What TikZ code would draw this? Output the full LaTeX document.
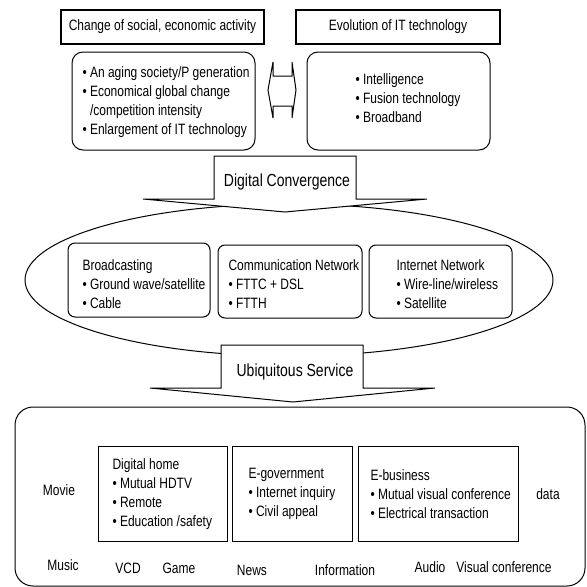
\documentclass[tikz,border=0pt]{standalone}
\usepackage{fontspec}
\setmainfont{Liberation Sans}[FakeStretch=0.8]
\usetikzlibrary{shapes.geometric}
\begin{document}
\begin{tikzpicture}[x=1pt,y=-1pt,line width=1pt,
  box/.style={draw,rectangle,inner sep=0,line width=1.1pt},
  rbox/.style={draw,rectangle,rounded corners=11pt,inner sep=0},
  ibox/.style={draw,rectangle,rounded corners=7pt,inner sep=0},
  sbox/.style={draw,rectangle,inner sep=0},
  txt/.style={font=\fontsize{15}{19}\selectfont,align=left,inner sep=0,anchor=west},
  lbl/.style={font=\fontsize{15}{19}\selectfont,inner sep=0},
  head/.style={font=\fontsize{17.5}{21}\selectfont,inner sep=0},
  bigarrow/.style={draw,fill=white,line join=miter}]
\useasboundingbox (0,0) rectangle (587,587);

% top titles
\node[box,minimum width=203pt,minimum height=34pt] (t1) at (162.5,27) {};
\node[lbl] (t1t) at (t1) {Change of social, economic activity};
\node[box,minimum width=204pt,minimum height=34pt] (t2) at (398,27) {};
\node[lbl] (t2t) at (t2) {Evolution of IT technology};

% top rounded boxes
\node[rbox,minimum width=183pt,minimum height=98pt] (r1) at (163.5,101) {};
\node[txt] (r1t) at (82,102) {• An aging society/P generation\\
• Economical global change\\
\hphantom{• }/competition intensity\\
• Enlargement of IT technology};
\node[rbox,minimum width=183pt,minimum height=98pt] (r2) at (398.5,101) {};
\node[txt] (r2t) at (355,98) {• Intelligence\\
• Fusion technology\\
• Broadband};

% double arrow
\draw[line join=miter] (268,90) -- (273,62) -- (273,76) -- (292,76) -- (292,62) -- (296,90)
  -- (292,118) -- (292,106) -- (273,106) -- (273,118) -- cycle;

% ellipse
\node[draw,ellipse,minimum width=528pt,minimum height=152pt,inner sep=0] (ell) at (289,280) {};

% Digital Convergence arrow
\draw[bigarrow] (214,156) -- (356,156) -- (356,199) -- (427,199) -- (285,212) -- (143,199) -- (214,199) -- cycle;
\node[head] (dc) at (287,182) {Digital Convergence};

% boxes in ellipse
\node[ibox,minimum width=142pt,minimum height=74pt] (b1) at (139,280) {};
\node[txt] (b1t) at (82,284) {Broadcasting\\• Ground wave/satellite\\• Cable};
\node[ibox,minimum width=144pt,minimum height=73pt] (b2) at (290,281.5) {};
\node[txt] (b2t) at (228,284) {Communication Network\\• FTTC + DSL\\• FTTH};
\node[ibox,minimum width=143pt,minimum height=73pt] (b3) at (440.5,281.5) {};
\node[txt] (b3t) at (396,284) {Internet Network\\• Wire-line/wireless\\• Satellite};

% big bottom box
\node[draw,rectangle,rounded corners=18pt,inner sep=0,minimum width=570pt,minimum height=179pt] (big) at (300,496.5) {};

% Ubiquitous Service arrow
\draw[bigarrow] (221,345) -- (363,345) -- (363,388) -- (435,388) -- (293,402) -- (150,388) -- (221,388) -- cycle;
\node[head] (us) at (295,372) {Ubiquitous Service};

% inner service boxes
\node[sbox,minimum width=129pt,minimum height=95pt] (h1) at (162.5,493.5) {};
\node[txt] (h1t) at (112,494) {Digital home\\• Mutual HDTV\\• Remote\\• Education /safety};
\node[sbox,minimum width=120pt,minimum height=95pt] (h2) at (292,493.5) {};
\node[txt] (h2t) at (248,494) {E-government\\• Internet inquiry\\• Civil appeal};
\node[sbox,minimum width=160pt,minimum height=95pt] (h3) at (438,493.5) {};
\node[txt] (h3t) at (370,494) {E-business\\• Mutual visual conference\\• Electrical transaction};

% loose labels
\node[lbl] (movie) at (59,490) {Movie};
\node[lbl] (data) at (548,494) {data};
\node[lbl] (music) at (63,565) {Music};
\node[lbl] (vcd) at (128,568) {VCD};
\node[lbl] (game) at (179,568) {Game};
\node[lbl] (news) at (252,570) {News};
\node[lbl] (info) at (345,570) {Information};
\node[lbl] (audio) at (430,567) {Audio};
\node[lbl] (visual) at (504,567) {Visual conference};
\end{tikzpicture}
\end{document}
